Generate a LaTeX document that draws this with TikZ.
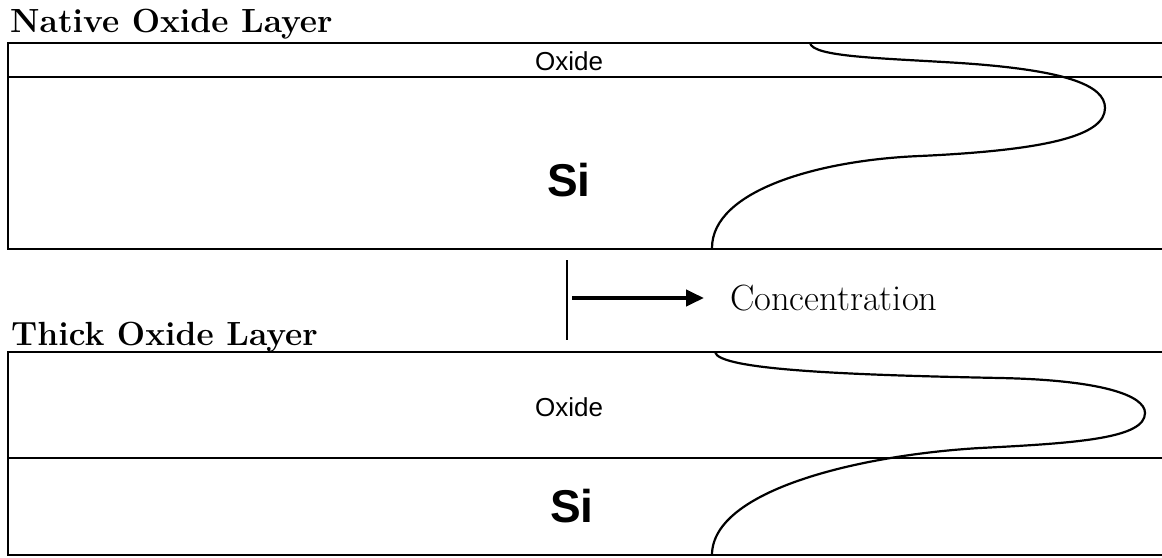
\documentclass[tikz,border=0pt]{standalone}
\usepackage{fontspec}
\newfontfamily\arialfont{Liberation Sans}
\usetikzlibrary{arrows.meta}
\begin{document}
\begin{tikzpicture}[x=1pt,y=-1pt,
  layerline/.style={line width=2.4pt},
  profile/.style={line width=2.2pt},
  titletext/.style={font=\fontsize{33.5}{33.5}\selectfont\bfseries, inner sep=0pt, anchor=base west},
  oxidetext/.style={font=\arialfont\fontsize{26}{26}\selectfont, inner sep=0pt},
  sitext/.style={font=\arialfont\bfseries\fontsize{46}{46}\selectfont, inner sep=0pt},
  conctext/.style={font=\fontsize{36.5}{36.5}\selectfont, inner sep=0pt, anchor=base west},
]
\useasboundingbox (0,0) rectangle (1162,557);

% titles
\node[titletext] (t1) at (10,32) {Native Oxide Layer};
\node[titletext] (t2) at (11,345) {Thick Oxide Layer};

% top panel
\draw[layerline] (1162,43) -- (8,43) -- (8,249) -- (1162,249);
\draw[layerline] (8,77) -- (1162,77);
\node[oxidetext] (ox1) at (569,61) {Oxide};
\node[sitext] (si1) at (569,180) {Si};
\draw[profile] (810,43) .. controls (813,57) and (880,58) .. (960,63)
  .. controls (1065,70) and (1105,85) .. (1105,108)
  .. controls (1105,135) and (1050,150) .. (920,156)
  .. controls (820,160) and (712,190) .. (712,248);

% bottom panel
\draw[layerline] (1162,352) -- (8,352) -- (8,555) -- (1162,555);
\draw[layerline] (8,458) -- (1162,458);
\node[oxidetext] (ox2) at (569,407) {Oxide};
\node[sitext] (si2) at (572,506) {Si};
\draw[profile] (715,352) .. controls (718,370) and (850,375) .. (1000,378)
  .. controls (1100,380) and (1145,395) .. (1145,413)
  .. controls (1145,438) and (1080,443) .. (980,448)
  .. controls (860,455) and (712,490) .. (712,555);

% concentration axis
\coordinate (axtop) at (567,260);
\coordinate (axbot) at (567,340);
\coordinate (arrs) at (572,298);
\coordinate (arre) at (704,298);
\draw[line width=2.2pt] (axtop) -- (axbot);
\draw[line width=4pt, -{Triangle[length=18pt,width=16pt]}] (arrs) -- (arre);
\node[conctext] (conc) at (730,310) {Concentration};
\end{tikzpicture}
\end{document}
